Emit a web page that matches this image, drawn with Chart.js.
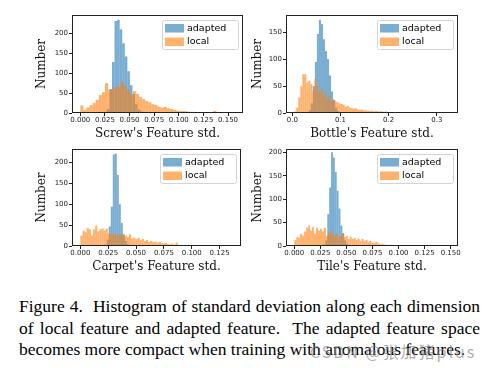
<!DOCTYPE html>
<html>
<head>
<meta charset="utf-8">
<script src="https://cdn.jsdelivr.net/npm/chart.js@4.4.1/dist/chart.umd.min.js"></script>
<style>
  html, body { margin: 0; padding: 0; background: #fff; }
  #page { position: relative; width: 487px; height: 368px; overflow: hidden; background: #fff; }
  #page canvas { position: absolute; }
  #caption { position: absolute; left: 19px; top: 296px; width: 461px; font-family: 'Liberation Serif', 'Times New Roman', serif; font-size: 17.5px; line-height: 21.7px; color: #000; }
  #caption .j { text-align: justify; text-align-last: justify; }
  #mark { position: absolute; left: 310px; top: 339px; font-family: 'Noto Sans CJK SC', sans-serif; font-size: 16px; letter-spacing: 2px; color: rgba(140,140,140,0.7); }
</style>
</head>
<body>
<div id="page">
  <canvas id="screw" width="250" height="142" style="left:0;top:0"></canvas>
  <canvas id="bottle" width="215" height="142" style="left:250px;top:0"></canvas>
  <canvas id="carpet" width="250" height="142" style="left:0;top:133px"></canvas>
  <canvas id="tile" width="215" height="142" style="left:250px;top:133px"></canvas>
  <div id="caption">
    <div class="j">Figure 4.&nbsp; Histogram of standard deviation along each dimension</div>
    <div class="j">of local feature and adapted feature.&nbsp; The adapted feature space</div>
    <div>becomes more compact when training with anomalous features.</div>
  </div>
  <div id="mark">CSDN @张加猪plus</div>
</div>
<script>
// series names (legend order)
const seriesNames = ['adapted', 'local'];

// histogram bins: [first edge, bin width]; counts per bin
const screwLocalBins = [0.0, 0.00314];
const screwLocal = [19, 8, 14, 20, 25, 33, 45, 52, 75, 58, 60, 65, 66, 78, 68, 58, 45, 55, 48, 40,
  35, 30, 27, 22, 20, 16, 14, 15, 12, 10, 8, 6, 5, 5, 4, 3, 3, 2, 2, 1,
  1, 1, 1, 5, 1, 0, 1, 0, 1, 1];
const screwAdaptedBins = [0.0218, 0.0026];
const screwAdapted = [1, 3, 10, 60, 128, 231, 234, 210, 175, 142, 105, 70, 48, 22, 9, 4, 2, 1];

const bottleLocalBins = [0.004, 0.0042];
const bottleLocal = [3, 10, 29, 50, 72, 72, 57, 60, 54, 41, 63, 50, 38, 45, 35, 38, 25, 32, 21, 25,
  22, 20, 18, 17, 15, 12, 13, 10, 9, 8, 9, 7, 6, 6, 5, 5, 4, 4, 4, 3,
  4, 3, 3, 3, 2, 3, 2, 2, 0, 1, 0, 0, 1, 0, 0, 0, 1, 0, 0, 0,
  0, 1, 0, 0, 0, 0, 0, 1, 0, 0, 0, 0, 0, 0, 0, 1, 1];
const bottleAdaptedBins = [0.030, 0.0042];
const bottleAdapted = [2, 5, 18, 50, 95, 147, 173, 165, 137, 115, 100, 70, 40, 24, 10, 4, 2];

const carpetLocalBins = [0.0, 0.0019];
const carpetLocal = [25, 36, 33, 43, 40, 25, 40, 49, 35, 40, 42, 37, 42, 30, 27, 30, 28, 25, 27, 28,
  25, 25, 22, 28, 18, 20, 17, 20, 14, 17, 12, 14, 10, 12, 10, 11, 8, 10, 7, 6,
  8, 5, 4, 6, 3, 8, 2, 2, 1, 1, 0, 1, 1, 0, 1, 0, 0, 1, 0, 0,
  0, 1, 0, 0, 0, 0, 1, 0, 0, 0, 0, 1];
const carpetAdaptedBins = [0.0219, 0.0018];
const carpetAdapted = [3, 15, 47, 94, 219, 221, 170, 100, 55, 28, 12, 5, 2];

const tileLocalBins = [0.0, 0.0019];
const tileLocal = [13, 19, 18, 26, 22, 31, 39, 44, 33, 40, 27, 39, 33, 37, 31, 39, 22, 26, 31, 27,
  22, 27, 20, 22, 26, 19, 22, 15, 20, 15, 17, 13, 16, 11, 15, 11, 13, 9, 11, 7,
  7, 9, 6, 4, 5, 3, 3, 2, 3, 2, 1, 2, 1, 1, 1, 0, 1, 0, 1, 0,
  0, 1, 0, 0, 1, 0, 0, 0, 1, 0, 0, 0, 0, 1, 0, 0, 0, 0, 1];
const tileAdaptedBins = [0.0281, 0.0018];
const tileAdapted = [3, 12, 68, 125, 200, 189, 158, 118, 80, 44, 28, 12, 5, 2];

// axis ticks: [step, decimals]
const screwXTicks = [0.025, 3];
const bottleXTicks = [0.1, 1];
const carpetXTicks = [0.025, 3];
const tileXTicks = [0.025, 3];
const yTickStep = 50;

const colors = { adapted: 'rgba(31,119,180,0.6)', local: 'rgba(255,127,14,0.6)' };

Chart.defaults.font.family = "'DejaVu Sans', sans-serif";

function toPoints(bins, counts) {
  return counts.map(function (c, i) { return { x: bins[0] + (i + 0.5) * bins[1], y: c }; });
}

// frame around the axes + matplotlib-style legend box
const framePlugin = {
  id: 'frame',
  afterDraw: function (chart) {
    const ctx = chart.ctx, a = chart.chartArea;
    ctx.save();
    ctx.strokeStyle = '#222';
    ctx.lineWidth = 1;
    ctx.strokeRect(a.left + 0.5, a.top + 0.5, a.right - a.left - 1, a.bottom - a.top - 1);

    const bw = 76, bh = 29;
    const bx = a.right - 5 - bw, by = a.top + 5;
    ctx.beginPath();
    if (ctx.roundRect) ctx.roundRect(bx + 0.5, by + 0.5, bw, bh, 2); else ctx.rect(bx + 0.5, by + 0.5, bw, bh);
    ctx.fillStyle = 'rgba(255,255,255,0.8)';
    ctx.fill();
    ctx.strokeStyle = '#d4d4d4';
    ctx.stroke();
    ctx.font = "9.5px 'DejaVu Sans'";
    ctx.textBaseline = 'middle';
    seriesNames.forEach(function (name, i) {
      const py = by + 4 + i * 13.5;
      ctx.fillStyle = colors[name];
      ctx.fillRect(bx + 3, py, 19, 8.5);
      ctx.fillStyle = '#000';
      ctx.fillText(name, bx + 25, py + 4.5);
    });
    ctx.restore();
  }
};

function histChart(id, title, localBins, local, adaptedBins, adapted, xRange, xTicks, yMax, yWidth, yTitlePad, pad) {
  const barOpts = { stack: 'h', barThickness: 'flex', categoryPercentage: 1, barPercentage: 1, borderWidth: 0, inflateAmount: 0 };
  const gridOpts = { display: true, drawOnChartArea: false, drawTicks: true, tickLength: 3, color: '#222', offset: false };
  return new Chart(document.getElementById(id), {
    type: 'bar',
    data: {
      datasets: [
        Object.assign({ label: 'local', data: toPoints(localBins, local), backgroundColor: colors.local, order: 0 }, barOpts),
        Object.assign({ label: 'adapted', data: toPoints(adaptedBins, adapted), backgroundColor: colors.adapted, order: 1 }, barOpts)
      ]
    },
    options: {
      responsive: false,
      animation: false,
      devicePixelRatio: 1,
      layout: { padding: { left: 0, top: pad[0], right: pad[1], bottom: 0 } },
      plugins: { legend: { display: false }, tooltip: { enabled: false } },
      scales: {
        x: {
          type: 'linear', min: xRange[0], max: xRange[1], offset: false,
          grid: gridOpts,
          border: { display: false },
          ticks: {
            stepSize: xTicks[0], includeBounds: false, autoSkip: false, maxRotation: 0, padding: 0,
            font: { size: 7 }, color: '#222',
            callback: function (v) { return v.toFixed(xTicks[1]); }
          },
          title: { display: true, text: title, color: '#111', font: { family: "'DejaVu Serif', serif", size: 12 }, padding: { top: 0, bottom: 1 } },
          afterFit: function (s) { s.height = 29; }
        },
        y: {
          type: 'linear', min: 0, max: yMax, stacked: false,
          grid: gridOpts,
          border: { display: false },
          ticks: { stepSize: yTickStep, includeBounds: false, padding: 1, font: { size: 7 }, color: '#222' },
          title: { display: true, text: 'Number', color: '#111', font: { family: "'DejaVu Serif', serif", size: 12 }, padding: { top: yTitlePad, bottom: 0 } },
          afterFit: function (s) { s.width = yWidth; }
        }
      }
    },
    plugins: [framePlugin]
  });
}

histChart('screw', "Screw's Feature std.", screwLocalBins, screwLocal, screwAdaptedBins, screwAdapted,
  [-0.0084, 0.1652], screwXTicks, 246, 72, 34.8, [15, 7]);
histChart('bottle', "Bottle's Feature std.", bottleLocalBins, bottleLocal, bottleAdaptedBins, bottleAdapted,
  [-0.0131, 0.344], bottleXTicks, 182, 36, 0.3, [15, 7]);
histChart('carpet', "Carpet's Feature std.", carpetLocalBins, carpetLocal, carpetAdaptedBins, carpetAdapted,
  [-0.0075, 0.1442], carpetXTicks, 232, 72, 34.8, [16, 9]);
histChart('tile', "Tile's Feature std.", tileLocalBins, tileLocal, tileAdaptedBins, tileAdapted,
  [-0.0079, 0.157], tileXTicks, 207, 36, 0.3, [16, 7]);
</script>
</body>
</html>
